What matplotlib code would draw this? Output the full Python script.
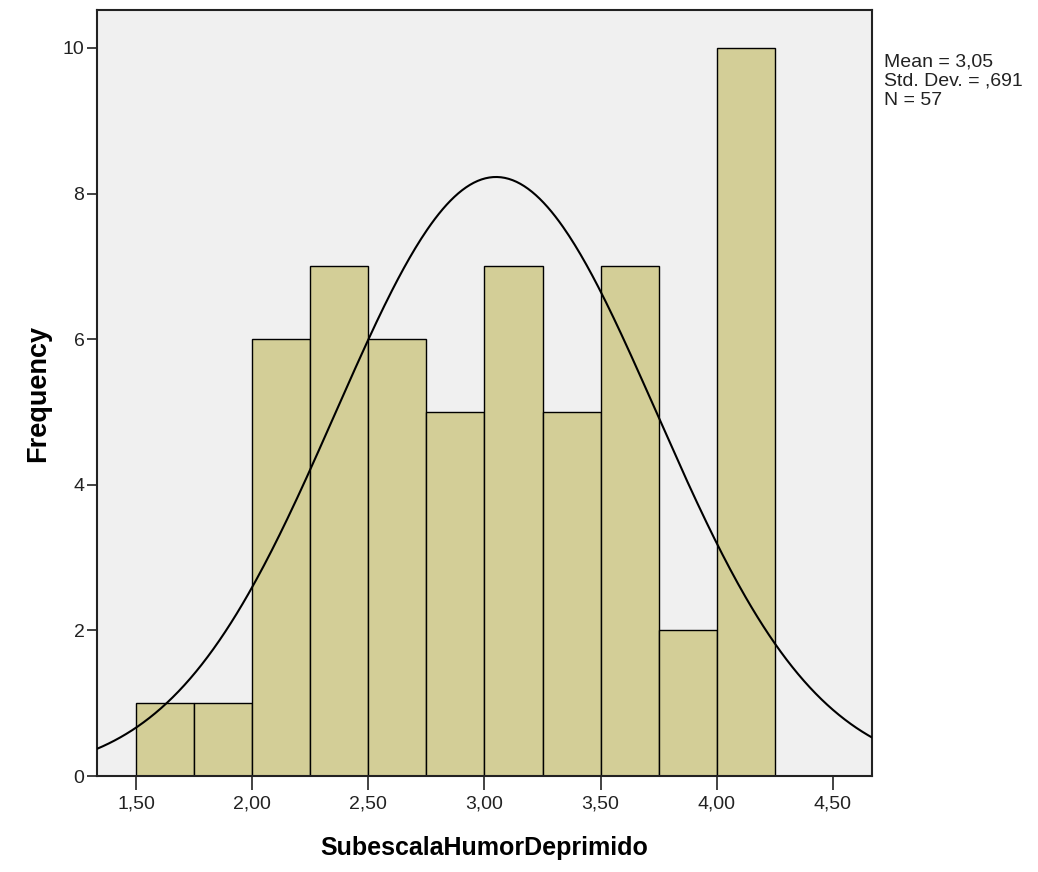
import matplotlib.pyplot as plt
import numpy as np

plt.rcParams['font.family'] = ['Liberation Sans', 'DejaVu Sans']

bin_edges = [1.50, 1.75, 2.00, 2.25, 2.50, 2.75, 3.00, 3.25, 3.50, 3.75, 4.00, 4.25]
counts = [1, 1, 6, 7, 6, 5, 7, 5, 7, 2, 10]
mean = 3.05
std = 0.691
n = 57
x_ticks = [1.5, 2.0, 2.5, 3.0, 3.5, 4.0, 4.5]
x_tick_labels = ['1,50', '2,00', '2,50', '3,00', '3,50', '4,00', '4,50']
y_ticks = [0, 2, 4, 6, 8, 10]

fig = plt.figure(figsize=(10.38, 8.72), dpi=100)
ax = fig.add_axes([0.0934, 0.110, 0.7466, 0.8785])
ax.set_facecolor('#f0f0f0')

lefts = bin_edges[:-1]
widths = np.diff(bin_edges)
ax.bar(lefts, counts, width=widths, align='edge', color='#d3ce97',
       edgecolor='black', linewidth=1.0, zorder=2)

# normal curve scaled to the histogram
bw = bin_edges[1] - bin_edges[0]
xs = np.linspace(1.332, 4.668, 400)
ys = n * bw * np.exp(-0.5 * ((xs - mean) / std) ** 2) / (std * np.sqrt(2 * np.pi))
ax.plot(xs, ys, color='black', linewidth=1.5, zorder=3)

ax.set_xlim(1.332, 4.668)
ax.set_ylim(0, 10.52)
ax.set_xticks(x_ticks)
ax.set_xticklabels(x_tick_labels)
ax.set_yticks(y_ticks)
ax.tick_params(axis='x', length=10, width=1.2, labelsize=14, pad=4, colors='#222222')
ax.tick_params(axis='y', length=7, width=1.2, labelsize=14, pad=2, colors='#222222')
for s in ax.spines.values():
    s.set_linewidth(1.5)
    s.set_color('#222222')

ax.set_xlabel('SubescalaHumorDeprimido', fontsize=18, fontweight='bold', labelpad=17)
ax.set_ylabel('Frequency', fontsize=19.5, fontweight='bold', labelpad=8)

stats_txt = 'Mean = {}\nStd. Dev. = {}\nN = {}'.format(
    f'{mean:.2f}'.replace('.', ','), f'{std:.3f}'.replace('0.', ','), n)
fig.text(0.852, 0.939, stats_txt, fontsize=14, va='top', ha='left', linespacing=1.18,
         color='#222222')

fig.savefig('out.png', dpi=100)
